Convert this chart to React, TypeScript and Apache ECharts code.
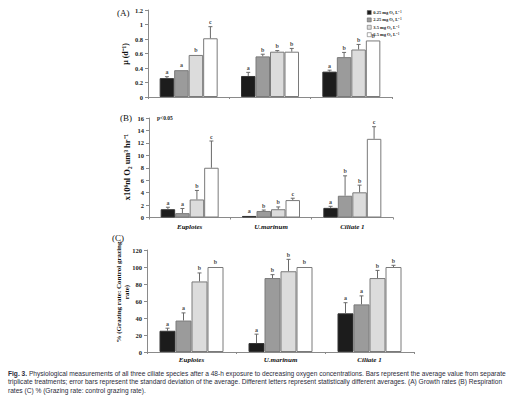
import React, { useEffect, useRef } from "react";
import * as echarts from "echarts";

const categories = ["Euplotes", "U.marinum", "Ciliate 1"];
const concentrations = ["0.25 mg O₂ L⁻¹", "2.25 mg O₂ L⁻¹", "3.5 mg O₂ L⁻¹", "6.5 mg O₂ L⁻¹"];
const barColors = ["#1c1c1c", "#9b9b9b", "#dcdcdc", "#ffffff"];

// (A) growth rates, per concentration (rows) x species (cols)
const growthMean = [
  [0.26, 0.29, 0.35],
  [0.37, 0.56, 0.55],
  [0.58, 0.625, 0.655],
  [0.81, 0.625, 0.78],
];
const growthErrTop = [
  [0.28, 0.34, 0.37],
  [0.375, 0.59, 0.615],
  [0.59, 0.64, 0.725],
  [0.97, 0.67, 0.785],
];
const growthLetters = [
  ["a", "a", "a"],
  ["a", "b", "b"],
  ["b", "b", "b"],
  ["c", "b", "b"],
];

// (B) respiration rates
const respMean = [
  [1.33, 0.25, 1.55],
  [0.7, 1.05, 3.5],
  [2.9, 1.33, 4.05],
  [8.0, 2.8, 12.65],
];
const respErrTop = [
  [1.65, 0.25, 1.8],
  [1.45, 1.2, 6.7],
  [4.35, 1.7, 5.2],
  [12.3, 3.1, 14.6],
];
const respLetters = [
  ["a", "a", "a"],
  ["a", "b", "b"],
  ["b", "b", "b"],
  ["c", "c", "c"],
];

// (C) % grazing rate : control grazing rate
const grazMean = [
  [25, 10.5, 45.5],
  [37, 87, 56],
  [83, 95, 87],
  [100, 100, 100],
];
const grazErrTop = [
  [28, 21, 58],
  [46, 91, 66],
  [93, 109, 96],
  [100.5, 100.5, 102],
];
const grazLetters = [
  ["a", "a", "a"],
  ["a", "b", "a"],
  ["b", "b", "b"],
  ["b", "b", "b"],
];

const captionLines = [
  "Physiological measurements of all three ciliate species after a 48-h exposure to decreasing oxygen concentrations. Bars represent the average value from separate",
  "triplicate treatments; error bars represent the standard deviation of the average. Different letters represent statistically different averages. (A) Growth rates (B) Respiration",
  "rates (C) % (Grazing rate: control grazing rate).",
];

const SERIF = "Liberation Serif";
const SANS = "Liberation Sans";
const CAP_COLOR = "#2b2b3a";

export default function App() {
  const ref = useRef<HTMLDivElement>(null);
  useEffect(() => {
    if (!ref.current) return;
    const chart = echarts.init(ref.current, null, { renderer: "svg" });

    const panels = [
      { mean: growthMean, err: growthErrTop, letters: growthLetters, barW: 14.5 },
      { mean: respMean, err: respErrTop, letters: respLetters, barW: 14.5 },
      { mean: grazMean, err: grazErrTop, letters: grazLetters, barW: 16 },
    ];

    const series: any[] = [];
    panels.forEach((p, g) => {
      concentrations.forEach((name, i) => {
        series.push({
          type: "bar",
          name,
          xAxisIndex: g,
          yAxisIndex: g,
          barWidth: p.barW,
          barGap: "0%",
          data: p.mean[i],
          itemStyle: { color: barColors[i], borderColor: i === 0 ? "#333" : "#7a7a7a", borderWidth: 1 },
        });
      });
      concentrations.forEach((_, i) => {
        series.push({
          type: "custom",
          name: "err" + g + "_" + i,
          xAxisIndex: g,
          yAxisIndex: g,
          z: 5,
          data: categories.map((__, j) => [j, p.mean[i][j], p.err[i][j]]),
          renderItem: (params: any, api: any) => {
            const cat = api.value(0);
            const m = api.value(1);
            const e = api.value(2);
            const p0 = api.coord([cat, m]);
            const p1 = api.coord([cat, e]);
            const x = p0[0] + (i - 1.5) * p.barW;
            const children: any[] = [];
            if (p0[1] - p1[1] > 0.8) {
              children.push({
                type: "line",
                shape: { x1: x, y1: p0[1], x2: x, y2: p1[1] },
                style: { stroke: "#6a6a6a", lineWidth: 1 },
              });
              children.push({
                type: "line",
                shape: { x1: x - 2, y1: p1[1], x2: x + 2, y2: p1[1] },
                style: { stroke: "#6a6a6a", lineWidth: 1 },
              });
            }
            return { type: "group", children };
          },
        });
        series.push({
          type: "scatter",
          name: "letters" + g + "_" + i,
          xAxisIndex: g,
          yAxisIndex: g,
          z: 6,
          symbolSize: 1,
          itemStyle: { color: "rgba(0,0,0,0)" },
          data: categories.map((__, j) => [j, p.err[i][j]]),
          label: {
            show: true,
            position: "top",
            distance: 1,
            offset: [(i - 1.5) * p.barW, 0],
            formatter: (prm: any) => p.letters[i][prm.dataIndex],
            fontFamily: SERIF,
            fontWeight: "bold",
            fontSize: 6,
            color: "#111111",
          },
        });
      });
    });

    const grids = [
      { left: 148, top: 10, width: 244, height: 87 },
      { left: 149, top: 118, width: 244, height: 99.5 },
      { left: 147, top: 250, width: 267, height: 102 },
    ];
    const yRanges = [
      { max: 1.2, interval: 0.2 },
      { max: 16, interval: 2 },
      { max: 120, interval: 20 },
    ];

    const option: any = {
      animation: false,
      backgroundColor: "#ffffff",
      grid: grids,
      legend: {
        data: concentrations,
        orient: "vertical",
        left: 362,
        top: 5,
        icon: "rect",
        itemWidth: 4,
        itemHeight: 4,
        itemGap: 2.4,
        selectedMode: false,
        itemStyle: { borderColor: "#555", borderWidth: 0.5 },
        textStyle: { fontFamily: SERIF, fontSize: 4.5, fontWeight: "bold", color: "#222", padding: [0, 0, 0, -3] },
      },
      xAxis: grids.map((_, g) => ({
        type: "category",
        gridIndex: g,
        data: categories,
        axisLine: { lineStyle: { color: "#8a8a8a", width: 1 } },
        axisTick: { show: true, length: 2, lineStyle: { color: "#8a8a8a" } },
        axisLabel: {
          show: g > 0,
          margin: g === 1 ? 6 : 4,
          fontFamily: SERIF,
          fontStyle: "italic",
          fontWeight: "bold",
          fontSize: 7,
          color: "#111",
        },
      })),
      yAxis: grids.map((_, g) => ({
        type: "value",
        gridIndex: g,
        min: 0,
        max: yRanges[g].max,
        interval: yRanges[g].interval,
        splitLine: { show: false },
        axisLine: { show: true, lineStyle: { color: "#8a8a8a", width: 1 } },
        axisTick: { show: true, length: 3, lineStyle: { color: "#8a8a8a" } },
        axisLabel: { fontFamily: SERIF, fontSize: 6.5, fontWeight: "bold", color: "#222", margin: 5 },
      })),
      series,
      graphic: [
        { type: "text", x: 117, y: 13, style: { text: "(A)", fontFamily: SERIF, fontSize: 9, fill: "#111", verticalAlign: "middle" } },
        { type: "text", x: 120, y: 118, style: { text: "(B)", fontFamily: SERIF, fontSize: 9, fill: "#111", verticalAlign: "middle" } },
        { type: "text", x: 112, y: 238, style: { text: "(C)", fontFamily: SERIF, fontSize: 9, fill: "#111", verticalAlign: "middle" } },
        { type: "text", x: 157, y: 118, style: { text: "p<0.05", fontFamily: SERIF, fontSize: 5.5, fontWeight: "bold", fill: "#222", verticalAlign: "middle" } },
        {
          type: "text", x: 125, y: 54, rotation: Math.PI / 2,
          style: { text: "μ (d⁻¹)", fontFamily: SERIF, fontSize: 8, fontWeight: "bold", fill: "#111", align: "center", verticalAlign: "middle" },
        },
        {
          type: "text", x: 127, y: 167, rotation: Math.PI / 2,
          style: { text: "x10⁶nl O₂ um³ hr⁻¹", fontFamily: SERIF, fontSize: 8.5, fontWeight: "bold", fill: "#111", align: "center", verticalAlign: "middle" },
        },
        {
          type: "text", x: 119, y: 292, rotation: Math.PI / 2,
          style: { text: "% (Grazing rate: Control grazing", fontFamily: SERIF, fontSize: 7, fontWeight: "bold", fill: "#111", align: "center", verticalAlign: "middle" },
        },
        {
          type: "text", x: 127, y: 292, rotation: Math.PI / 2,
          style: { text: "rate)", fontFamily: SERIF, fontSize: 7, fontWeight: "bold", fill: "#111", align: "center", verticalAlign: "middle" },
        },
        {
          type: "text", x: 8, y: 373,
          style: {
            text: "{b|Fig. 3.} " + captionLines[0],
            rich: { b: { fontWeight: "bold", fontFamily: SANS, fontSize: 6.6, fill: CAP_COLOR } },
            fontFamily: SANS, fontSize: 6.6, fill: CAP_COLOR, verticalAlign: "middle",
          },
        },
        {
          type: "text", x: 8, y: 381.5,
          style: { text: captionLines[1], fontFamily: SANS, fontSize: 6.6, fill: CAP_COLOR, verticalAlign: "middle" },
        },
        {
          type: "text", x: 8, y: 390,
          style: { text: captionLines[2], fontFamily: SANS, fontSize: 6.6, fill: CAP_COLOR, verticalAlign: "middle" },
        },
      ],
    };
    chart.setOption(option);
    return () => chart.dispose();
  }, []);
  return (
    <div
      ref={ref}
      style={{ position: "fixed", left: 0, top: 0, width: 520, height: 399, background: "#fff" }}
    />
  );
}
